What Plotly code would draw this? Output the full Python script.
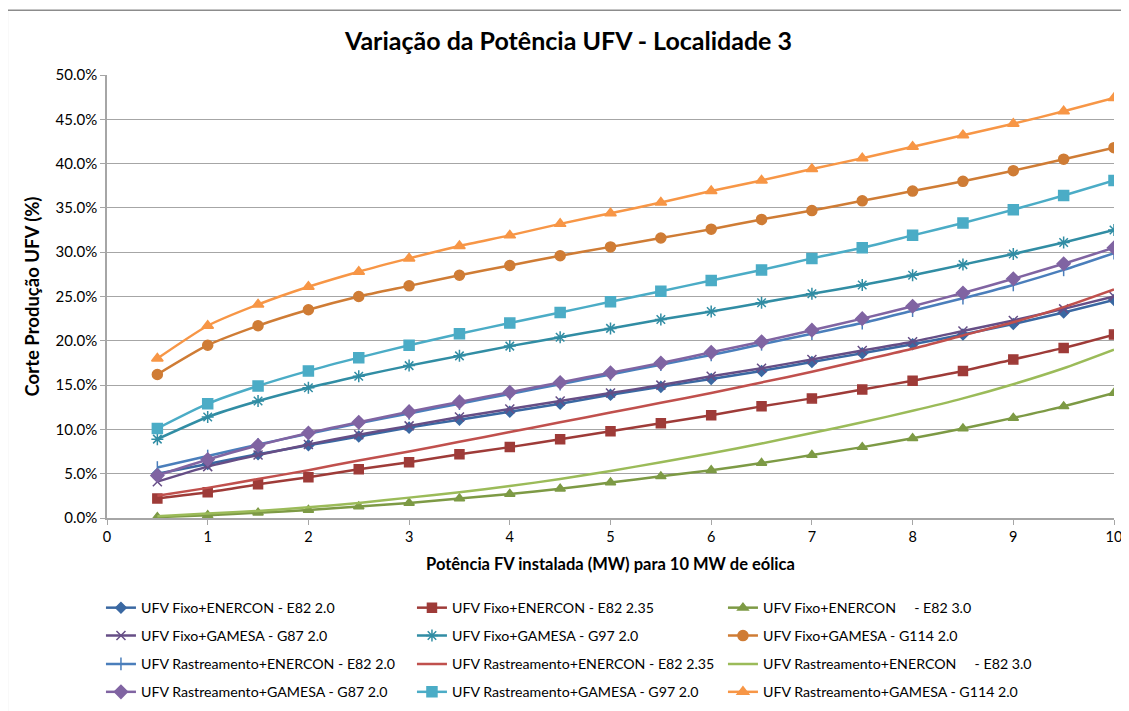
import plotly.graph_objects as go

# Potência FV instalada (MW)
pot_fv = [0.5, 1, 1.5, 2, 2.5, 3, 3.5, 4, 4.5, 5, 5.5, 6, 6.5, 7, 7.5, 8, 8.5, 9, 9.5, 10]

# Corte de produção UFV (%)
fixo_e82_20 = [5.0, 6.1, 7.2, 8.2, 9.2, 10.2, 11.1, 12.0, 12.9, 13.9, 14.8, 15.7, 16.6, 17.6, 18.6, 19.6, 20.7, 21.9, 23.2, 24.6]
fixo_e82_235 = [2.2, 2.9, 3.8, 4.6, 5.5, 6.3, 7.2, 8.0, 8.9, 9.8, 10.7, 11.6, 12.6, 13.5, 14.5, 15.5, 16.6, 17.9, 19.2, 20.7]
fixo_e82_30 = [0.1, 0.3, 0.6, 0.9, 1.3, 1.7, 2.2, 2.7, 3.3, 4.0, 4.7, 5.4, 6.2, 7.1, 8.0, 9.0, 10.1, 11.3, 12.6, 14.1]
fixo_g87 = [4.1, 5.8, 7.1, 8.3, 9.4, 10.4, 11.4, 12.3, 13.2, 14.1, 15.0, 16.0, 16.9, 17.9, 18.9, 19.9, 21.1, 22.3, 23.6, 25.0]
fixo_g97 = [8.9, 11.4, 13.2, 14.7, 16.0, 17.2, 18.3, 19.4, 20.4, 21.4, 22.4, 23.3, 24.3, 25.3, 26.3, 27.4, 28.6, 29.8, 31.1, 32.5]
fixo_g114 = [16.2, 19.5, 21.7, 23.5, 25.0, 26.2, 27.4, 28.5, 29.6, 30.6, 31.6, 32.6, 33.7, 34.7, 35.8, 36.9, 38.0, 39.2, 40.5, 41.8]
rastr_e82_20 = [5.7, 7.0, 8.3, 9.5, 10.7, 11.8, 12.9, 14.0, 15.1, 16.2, 17.3, 18.4, 19.6, 20.8, 22.0, 23.4, 24.8, 26.3, 28.0, 29.9]
rastr_e82_235 = [2.5, 3.4, 4.4, 5.4, 6.5, 7.5, 8.6, 9.7, 10.8, 11.9, 13.0, 14.1, 15.3, 16.5, 17.8, 19.1, 20.6, 22.1, 23.8, 25.8]
rastr_e82_30 = [0.2, 0.5, 0.8, 1.2, 1.7, 2.3, 2.9, 3.6, 4.4, 5.3, 6.3, 7.3, 8.4, 9.6, 10.8, 12.1, 13.5, 15.1, 16.9, 19.0]
rastr_g87 = [4.8, 6.6, 8.2, 9.6, 10.8, 12.0, 13.1, 14.2, 15.3, 16.4, 17.5, 18.7, 19.9, 21.2, 22.5, 23.9, 25.4, 27.0, 28.7, 30.5]
rastr_g97 = [10.1, 12.9, 14.9, 16.6, 18.1, 19.5, 20.8, 22.0, 23.2, 24.4, 25.6, 26.8, 28.0, 29.3, 30.5, 31.9, 33.3, 34.8, 36.4, 38.1]
rastr_g114 = [18.0, 21.7, 24.1, 26.1, 27.8, 29.3, 30.7, 31.9, 33.2, 34.4, 35.6, 36.9, 38.1, 39.4, 40.6, 41.9, 43.2, 44.5, 45.9, 47.4]

series = [
    ("UFV Fixo+ENERCON - E82 2.0", fixo_e82_20, "#3A68A2", "diamond", 8),
    ("UFV Fixo+ENERCON - E82 2.35", fixo_e82_235, "#9E3B38", "square", 9),
    ("UFV Fixo+ENERCON     - E82 3.0", fixo_e82_30, "#7D9A45", "triangle-up", 9),
    ("UFV Fixo+GAMESA - G87 2.0", fixo_g87, "#664E86", "x-thin", 9),
    ("UFV Fixo+GAMESA - G97 2.0", fixo_g97, "#318DA4", "asterisk", 10),
    ("UFV Fixo+GAMESA - G114 2.0", fixo_g114, "#CF7C35", "circle", 10),
    ("UFV Rastreamento+ENERCON - E82 2.0", rastr_e82_20, "#4A7EBB", "line-ns", 9),
    ("UFV Rastreamento+ENERCON - E82 2.35", rastr_e82_235, "#C0504D", None, 0),
    ("UFV Rastreamento+ENERCON     - E82 3.0", rastr_e82_30, "#9BBB59", None, 0),
    ("UFV Rastreamento+GAMESA - G87 2.0", rastr_g87, "#8064A2", "diamond", 10),
    ("UFV Rastreamento+GAMESA - G97 2.0", rastr_g97, "#4BACC6", "square", 10),
    ("UFV Rastreamento+GAMESA - G114 2.0", rastr_g114, "#F79646", "triangle-up", 10),
]

legend_ids = ["legend", "legend2", "legend3", "legend4"]

fig = go.Figure()
for i, (name, vals, color, symbol, size) in enumerate(series):
    if symbol is None:
        mode = "lines"
        marker = None
    else:
        mode = "lines+markers"
        marker = dict(symbol=symbol, size=size, color=color,
                      line=dict(color=color, width=1.5))
    fig.add_trace(go.Scatter(
        x=pot_fv, y=vals, name=name, mode=mode,
        line=dict(color=color, width=2.5, shape="spline", smoothing=0.6),
        marker=marker, legend=legend_ids[i // 3],
    ))

font_family = "Lato, 'Open Sans', sans-serif"

# uma legenda por linha (3 entradas cada)
row_y = [-0.203, -0.266, -0.330, -0.393]
legend_common = dict(orientation="h", x=-0.006, xanchor="left", yanchor="middle",
                     entrywidth=266, entrywidthmode="pixels",
                     font=dict(size=14.2), itemwidth=30, bgcolor="rgba(0,0,0,0)")

# a página tem 8 px de margem no body, por isso a figura é um pouco menor
fig.update_layout(
    width=1121, height=703,
    paper_bgcolor="white", plot_bgcolor="white",
    margin=dict(l=99, r=15, t=67, b=193, autoexpand=False),
    font=dict(family=font_family, size=13, color="black"),
    title=dict(text="<b>Variação da Potência UFV - Localidade 3</b>",
               x=0.5, xanchor="center", y=0.952, yanchor="middle",
               font=dict(size=25, family=font_family)),
    showlegend=True,
    legend=dict(legend_common, y=row_y[0]),
    legend2=dict(legend_common, y=row_y[1]),
    legend3=dict(legend_common, y=row_y[2]),
    legend4=dict(legend_common, y=row_y[3]),
    xaxis=dict(
        title=dict(text="<b>Potência FV instalada (MW) para 10 MW de eólica</b>",
                   font=dict(size=16.5), standoff=14),
        range=[0, 10], tickmode="linear", tick0=0, dtick=1,
        showgrid=False, zeroline=False,
        showline=True, linecolor="#A6A6A6", linewidth=1.5,
        ticks="outside", tickcolor="#A6A6A6", ticklen=5,
        tickfont=dict(size=14.5),
    ),
    yaxis=dict(
        title=dict(text="<b>Corte Produção UFV (%)</b>", font=dict(size=18.5), standoff=11),
        range=[0, 50], tickmode="linear", tick0=0, dtick=5,
        tickformat=".1f", ticksuffix="%",
        showgrid=True, gridcolor="#A6A6A6", gridwidth=1,
        zeroline=False,
        showline=True, linecolor="#A6A6A6", linewidth=1.5,
        ticks="outside", tickcolor="#A6A6A6", ticklen=5,
        tickfont=dict(size=15),
    ),
)

# moldura do gráfico
fig.add_shape(type="rect", xref="paper", yref="paper",
              x0=-0.099, x1=1.2, y0=-0.6, y1=1.146,
              line=dict(color="#8C8C8C", width=1.5), layer="below")

fig.write_html("out.html")
